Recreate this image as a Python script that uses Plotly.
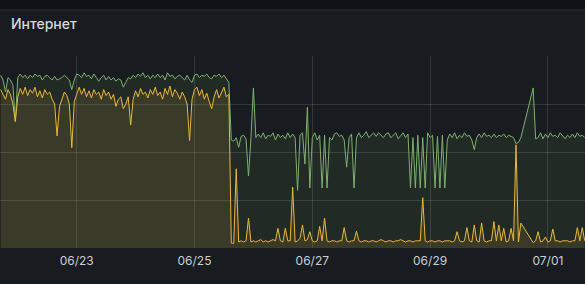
import plotly.graph_objects as go
import pandas as pd

# hourly samples starting 2023-06-21 17:00
start_time = "2023-06-21 17:00"
n_points = 239

green_pre = [72, 70, 65, 71, 70, 68, 53, 71, 72.5, 71, 72, 70.5, 72, 71, 72.5, 71.5, 72, 70, 71.5, 72,
             71, 70, 71.5, 70, 70.5, 71, 72, 71, 70, 66, 70, 72.5, 72, 71, 73, 71.5, 72, 70.5, 72.5, 71,
             69.5, 71, 72, 70, 71.5, 70, 71, 69.5, 70.5, 70, 67, 69, 71, 70.5, 72, 71, 72.5, 71.5, 73, 71,
             72, 70.5, 72, 71, 72.5, 71, 72, 70, 73, 71.5, 72, 70.5, 71.5, 72, 71, 70, 72, 70, 69, 72,
             72.5, 71, 72, 71.5, 72.5, 71, 70.5, 72, 71.5, 72.5, 71, 72, 70.5, 69]
green_post = [45, 44.5, 46, 42, 46.5, 47, 45.5, 30, 46, 66.7, 46, 47.5, 46, 48, 45.5, 47, 46.5, 48, 45, 47.5,
              46, 47, 45.5, 48, 46, 47.5, 46, 24, 47, 48, 35, 58.7, 25, 46, 48, 45, 47, 25, 47, 25,
              46, 45, 47.5, 48, 46.5, 47, 45, 33.7, 46, 47.5, 25, 46, 48, 46, 47, 48.5, 46, 47, 48, 46.5,
              48, 47, 46, 47.5, 48, 46, 47, 48, 45.5, 47, 48, 46, 47.5, 25, 46, 25, 47, 25, 46, 25,
              48, 46, 47, 25, 46.5, 25, 47, 25, 45, 47.5, 46, 48, 45.5, 47, 46, 48, 46.5, 47, 45, 41,
              46, 47.5, 46, 48, 46.5, 47, 46, 47.5, 46, 47, 46.5, 47.5, 46, 47, 46.5, 46, 43.5, 44, 46,
              None, None, None, None, 66.7, 45.5, 46, 48, 45.5, 47.5, 46, 48, 46.5, 47, 46, 48, 46.5, 45.5,
              47, 46, 47.5, 46, 48, 46.5, 47, 46]

yellow_pre = [66, 64, 62, 66, 64, 60, 52.6, 63, 66.5, 64, 67, 63.5, 66, 64.5, 67, 63, 65.5, 62.5, 66, 64,
              65, 62, 60, 46.7, 59, 62, 65, 63.5, 60, 41.8, 61, 64, 67, 64, 66.5, 63, 65.5, 62.5, 66, 64,
              65, 62, 66, 63.5, 65, 62, 64, 59, 62, 63, 58, 60, 63, 51.2, 62, 65.5, 63, 66.5, 64, 65,
              62.5, 66, 64, 67, 63.5, 65, 62, 66.5, 64, 67.5, 63, 66, 64.5, 62, 65, 63, 60, 44.7, 62, 66,
              67, 63.5, 66, 62, 64.5, 61, 58, 63, 66, 62.5, 65, 67, 63, 64]
yellow_post = [2, 2, 33, 2.5, 3, 2.5, 3, 12.5, 2.5, 3, 2.5, 3, 3.5, 2.5, 3, 2.5, 3, 3.5, 3, 8.2,
               3, 2.5, 8.2, 3, 3, 25.4, 2.5, 3, 4, 9.6, 3, 3.5, 6.8, 3, 2.5, 3, 9, 3, 12.5, 3,
               2.5, 3, 3, 2.5, 3, 3, 8.5, 3, 2.5, 3, 3, 7, 3, 2.5, 3, 3, 2.5, 3, 3, 2.5,
               3, 3.5, 3, 2.5, 3, 3, 2.5, 3, 3, 3.5, 3, 2.5, 3, 3, 2.5, 3, 3, 3, 21, 3,
               2.5, 3, 3, 2.5, 3, 3, 2.5, 3, 3, 3, 2.5, 3, 6.8, 3, 2.5, 3, 8.5, 3, 2.5, 9.6,
               3, 2.5, 10.4, 3, 2.5, 3, 3, 11, 3, 9.6, 3, 8.2, 2.5, 3, 8.2, 3, 43, 2.5, 10.4,
               None, None, None, None, 2.2, 3, 6.8, 2.5, 3, 4.6, 2.5, 3, 7.9, 3, 3, 2.5, 3, 3,
               3, 2.5, 3, 3, 8.5, 3, 8.5, 3]

green = green_pre + green_post
yellow = yellow_pre + yellow_post

tick_vals = ["2023-06-23", "2023-06-25", "2023-06-27", "2023-06-29", "2023-07-01"]
tick_text = ["06/23", "06/25", "06/27", "06/29", "07/01"]
x_range = ["2023-06-21 16:45", "2023-07-01 15:07"]

times = pd.date_range(start_time, periods=n_points, freq="h")

fig = go.Figure()
fig.add_trace(go.Scatter(x=times, y=green, mode="lines", line=dict(color="#7EB26D", width=1),
                         fill="tozeroy", fillcolor="rgba(126,178,109,0.10)", connectgaps=True,
                         hoverinfo="skip"))
fig.add_trace(go.Scatter(x=times, y=yellow, mode="lines", line=dict(color="#EAB839", width=1),
                         fill="tozeroy", fillcolor="rgba(234,184,57,0.12)", connectgaps=True,
                         hoverinfo="skip"))

H = 284
top, bottom = 56, 36
ph = H - top - bottom

def py(px):
    return 1 + (top - px) / ph

fig.update_layout(
    width=585, height=284,
    margin=dict(l=0, r=0, t=top, b=bottom),
    paper_bgcolor="#181b1f", plot_bgcolor="#181b1f",
    showlegend=False,
    xaxis=dict(range=x_range, tickvals=tick_vals, ticktext=tick_text, showgrid=True,
               gridcolor="rgba(204,204,220,0.16)", gridwidth=1, zeroline=False, showline=False,
               ticks="", ticklabelstandoff=4,
               tickfont=dict(family="Inter", size=12, color="#c7d0d9")),
    yaxis=dict(range=[0, 80], tickvals=[20, 40, 60, 80], showticklabels=False, showgrid=True,
               gridcolor="rgba(204,204,220,0.16)", gridwidth=1, zeroline=False, showline=False),
    shapes=[
        dict(type="rect", xref="paper", yref="paper", x0=0, x1=1, y0=py(10), y1=py(0),
             fillcolor="#111217", line=dict(width=0), layer="below"),
        dict(type="line", xref="paper", yref="paper", x0=0, x1=1, y0=py(10), y1=py(10),
             line=dict(color="rgba(204,204,220,0.12)", width=1)),
    ],
    annotations=[
        dict(text="Интернет", xref="paper", yref="paper", x=9 / 585, y=py(24),
             xanchor="left", yanchor="middle", showarrow=False,
             font=dict(family="Inter", size=14, color="#d8d9da", weight=500)),
    ],
)

fig.write_html("out.html")
